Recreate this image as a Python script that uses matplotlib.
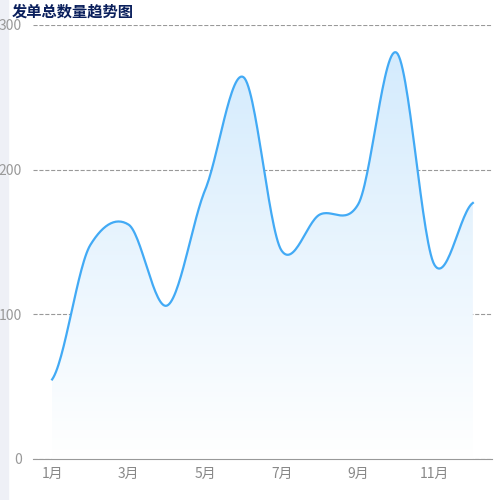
import numpy as np
import matplotlib.pyplot as plt
from matplotlib.patches import Polygon

plt.rcParams['font.family'] = ['Noto Sans CJK SC', 'DejaVu Sans']

months = ['1月','2月','3月','4月','5月','6月','7月','8月','9月','10月','11月','12月']
values = [55, 148, 162, 106, 186, 264, 144, 169, 176, 281, 134, 177]
title = '发单总数量趋势图'

fig = plt.figure(figsize=(5, 5), dpi=100)
fig.patches.append(plt.Rectangle((0, 0), 0.016, 1, transform=fig.transFigure, color='#eef0f6', zorder=-1))
ax = fig.add_axes([0.066, 0.082, 0.918, 0.868])

x = np.arange(len(values))
y = np.array(values, dtype=float)
# Catmull-Rom smoothing for drawing
xs, ys = [], []
for i in range(len(x) - 1):
    p0 = y[max(i - 1, 0)]; p1 = y[i]; p2 = y[i + 1]; p3 = y[min(i + 2, len(y) - 1)]
    m1 = (p2 - p0) / 2 * 0.8; m2 = (p3 - p1) / 2 * 0.8
    t = np.linspace(0, 1, 30, endpoint=False)
    h00 = 2*t**3 - 3*t**2 + 1; h10 = t**3 - 2*t**2 + t; h01 = -2*t**3 + 3*t**2; h11 = t**3 - t**2
    xs.extend(x[i] + t); ys.extend(h00*p1 + h10*m1 + h01*p2 + h11*m2)
xs.append(x[-1]); ys.append(y[-1])
xs = np.array(xs); ys = np.array(ys)

ax.set_xlim(-0.5, 11.5)
ax.set_ylim(0, 300)
grad = np.linspace(1, 0, 256).reshape(-1, 1)
from matplotlib.colors import LinearSegmentedColormap
cmap = LinearSegmentedColormap.from_list('g', ['#ffffff', '#d4ebfd'])
im = ax.imshow(grad, cmap=cmap, extent=[xs[0], xs[-1], 0, ys.max()], aspect='auto', origin='upper', zorder=1, vmin=0, vmax=1)
poly = Polygon(np.column_stack([np.r_[xs, xs[-1], xs[0]], np.r_[ys, 0, 0]]), closed=True, transform=ax.transData, facecolor='none', edgecolor='none')
ax.add_patch(poly)
im.set_clip_path(poly)
ax.plot(xs, ys, color='#42aaf5', lw=1.6, zorder=3)

ax.set_yticks([0, 100, 200, 300])
ax.set_yticklabels(['0', '100', '200', '300'])
ax.set_xticks(x[::2])
ax.set_xticklabels(months[::2])
ax.grid(axis='y', color='#999999', ls='--', lw=0.8)
ax.set_axisbelow(True)
for s in ['top', 'right', 'left']:
    ax.spines[s].set_visible(False)
ax.spines['bottom'].set_color('#999999')
ax.tick_params(axis='y', length=0, colors='#999999', labelsize=10, pad=8)
ax.tick_params(axis='x', length=0, colors='#888888', labelsize=10, pad=6)
fig.text(0.024, 0.977, title, fontsize=11, fontweight='bold', color='#0a1f5c', va='center')
fig.savefig('out.png')
